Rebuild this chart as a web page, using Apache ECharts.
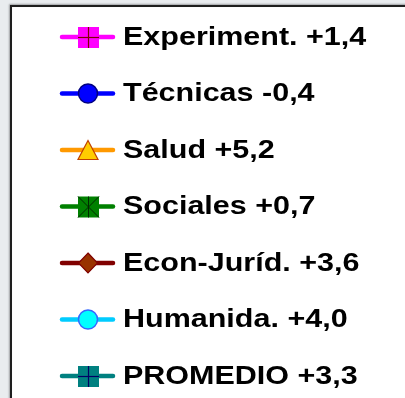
<!DOCTYPE html>
<html>
<head>
<meta charset="utf-8">
<script src="https://cdn.jsdelivr.net/npm/echarts@6/dist/echarts.min.js"></script>
<style>
  html, body { margin: 0; padding: 0; background: #e9ecef; }
  #chart { width: 405px; height: 398px; }
</style>
</head>
<body>
<div id="chart"></div>
<script>
// Legend rows: group name and its change value
const groups = ['Experiment.', 'Técnicas', 'Salud', 'Sociales', 'Econ-Juríd.', 'Humanida.', 'PROMEDIO'];
const changes = [1.4, -0.4, 5.2, 0.7, 3.6, 4.0, 3.3];

// Per-row marker style
const lineColors = ['#ff00ff', '#0000ff', '#ff9900', '#008000', '#800000', '#00ccff', '#008080'];
const markers = [
  { shape: 'square', fill: '#ff00ff', stroke: null, inner: 'plus', innerColor: '#800000' },
  { shape: 'circle', fill: '#0000ff', stroke: '#000080' },
  { shape: 'triangle', fill: '#ffcc00', stroke: '#c04000' },
  { shape: 'square', fill: '#008000', stroke: null, inner: 'star', innerColor: '#002a00' },
  { shape: 'diamond', fill: '#993300', stroke: '#800000' },
  { shape: 'circle', fill: '#00ffff', stroke: '#3366ff' },
  { shape: 'square', fill: '#008080', stroke: null, inner: 'plus', innerColor: '#000066' }
];

function fmt(v) {
  const s = Math.abs(v).toFixed(1).replace('.', ',');
  return (v < 0 ? '-' : '+') + s;
}

const chart = echarts.init(document.getElementById('chart'), null, { renderer: 'canvas' });

function markerEls(m, cx, cy) {
  const els = [];
  const h = 10;
  if (m.shape === 'square') {
    els.push({ type: 'rect', shape: { x: cx - h, y: cy - h, width: 2 * h + 1, height: 2 * h + 1 },
      style: { fill: m.fill } });
  } else if (m.shape === 'circle') {
    els.push({ type: 'circle', shape: { cx: cx, cy: cy, r: 9.5 },
      style: { fill: m.fill, stroke: m.stroke, lineWidth: 1.5 } });
  } else if (m.shape === 'triangle') {
    els.push({ type: 'polygon', shape: { points: [[cx, cy - 9.5], [cx + 10, cy + 9.5], [cx - 10, cy + 9.5]] },
      style: { fill: m.fill, stroke: m.stroke, lineWidth: 1.2, lineJoin: 'miter' } });
  } else if (m.shape === 'diamond') {
    els.push({ type: 'polygon', shape: { points: [[cx, cy - 10], [cx + 9.5, cy], [cx, cy + 10], [cx - 9.5, cy]] },
      style: { fill: m.fill, stroke: m.stroke, lineWidth: 1.2 } });
  }
  if (m.inner === 'plus') {
    els.push({ type: 'line', shape: { x1: cx + 0.5, y1: cy - h, x2: cx + 0.5, y2: cy + h + 1 },
      style: { stroke: m.innerColor, lineWidth: 1.2 } });
    els.push({ type: 'line', shape: { x1: cx - h, y1: cy + 0.5, x2: cx + h + 1, y2: cy + 0.5 },
      style: { stroke: m.innerColor, lineWidth: 1.2 } });
  } else if (m.inner === 'star') {
    els.push({ type: 'line', shape: { x1: cx + 0.5, y1: cy - h, x2: cx + 0.5, y2: cy + h + 1 },
      style: { stroke: m.innerColor, lineWidth: 1 } });
    els.push({ type: 'line', shape: { x1: cx - h, y1: cy - h, x2: cx + h + 1, y2: cy + h + 1 },
      style: { stroke: m.innerColor, lineWidth: 1 } });
    els.push({ type: 'line', shape: { x1: cx + h + 1, y1: cy - h, x2: cx - h, y2: cy + h + 1 },
      style: { stroke: m.innerColor, lineWidth: 1 } });
  }
  return els;
}

chart.setOption({
  backgroundColor: '#e9ecef',
  animation: false,
  graphic: [
    {
      type: 'rect', z: -10, silent: true,
      shape: { x: 11, y: 6, width: 440, height: 440 },
      style: { fill: '#ffffff', stroke: '#1e1e1e', lineWidth: 2,
        shadowColor: 'rgba(0,0,0,0.25)', shadowBlur: 2, shadowOffsetX: -1, shadowOffsetY: -1 }
    }
  ],
  grid: { left: 0, top: 37, width: 405, height: 339, containLabel: false },
  xAxis: { type: 'value', min: 0, max: 405, show: false },
  yAxis: { type: 'category', data: groups, inverse: true, boundaryGap: false, show: false },
  series: [{
    type: 'custom',
    data: groups.map((g, i) => [0, i]),
    renderItem: function (params, api) {
      const i = api.value(1);
      const p = api.coord([0, i]);
      const cy = p[1];
      const cx = 88;
      const children = [
        { type: 'line', shape: { x1: 62, y1: cy, x2: 113, y2: cy },
          style: { stroke: lineColors[i], lineWidth: 4.5, lineCap: 'round' } }
      ].concat(markerEls(markers[i], cx, cy));
      children.push({
        type: 'text', x: 123, y: cy + 1, scaleX: 1.22,
        style: {
          text: groups[i] + ' ' + fmt(changes[i]),
          fill: '#000000',
          font: 'bold 25px "Liberation Sans", Arial, sans-serif',
          textAlign: 'left', textVerticalAlign: 'middle'
        }
      });
      return { type: 'group', children: children };
    }
  }]
});
</script>
</body>
</html>
